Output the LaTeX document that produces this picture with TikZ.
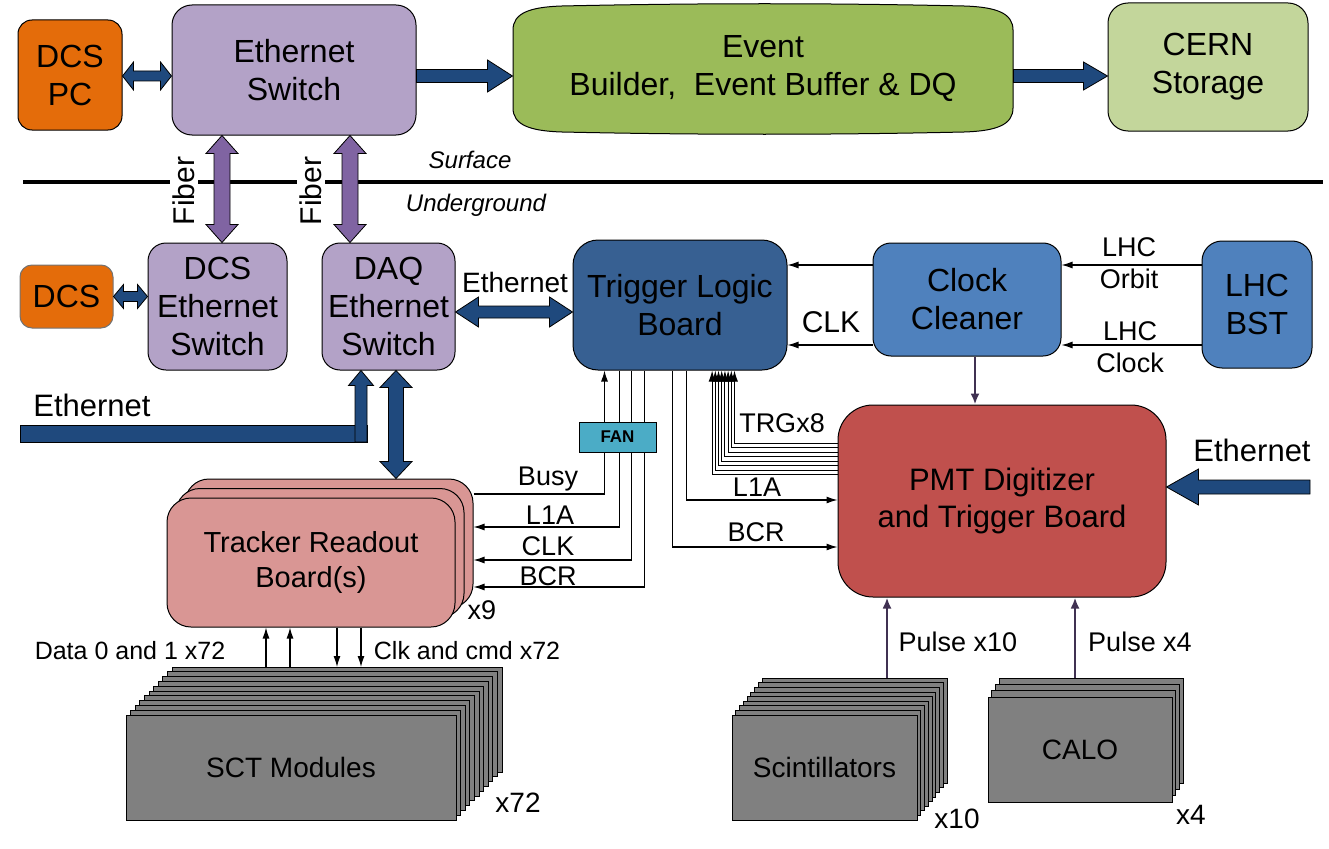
\documentclass[tikz,border=0pt]{standalone}
\usepackage{fontspec}
\setmainfont{Liberation Sans}
\usetikzlibrary{arrows.meta,calc}

\definecolor{orng}{HTML}{E46C0A}
\definecolor{lav}{HTML}{B3A2C7}
\definecolor{evbgreen}{HTML}{9BBB59}
\definecolor{palegreen}{HTML}{C3D69B}
\definecolor{tlbblue}{HTML}{376092}
\definecolor{midblue}{HTML}{4F81BD}
\definecolor{brick}{HTML}{C0504D}
\definecolor{salmon}{HTML}{D99694}
\definecolor{fancol}{HTML}{4BACC6}
\definecolor{modgray}{HTML}{808080}
\definecolor{arrblue}{HTML}{1F497D}
\definecolor{fibre}{HTML}{8064A2}
\definecolor{pulsecol}{HTML}{403152}

\newcommand\fsz[2]{\fontsize{#1}{#2}\selectfont}

\tikzset{
  blk/.style={draw=black, line width=1pt, align=center, inner sep=0pt, font=\fsz{32}{38}},
  trb/.style={blk, fill=salmon, rounded corners=24pt, minimum width=288pt, minimum height=129pt, font=\fsz{29}{35}},
  module/.style={draw=black, line width=1pt, fill=modgray},
  sig/.style={line width=1.2pt, -{Latex[length=11pt,width=7pt]}},
  pulse/.style={draw=pulsecol, line width=2.5pt, -{Latex[length=11pt,width=9pt]}},
  lbl/.style={font=\fsz{27}{32}, inner sep=0pt},
  fat/.style n args={3}{fill=arrblue, draw=black, line width=0.8pt, to path={
    let \p1=(\tikztostart), \p2=(\tikztotarget),
        \n1={atan2(\y2-\y1,\x2-\x1)}, \n2={veclen(\x2-\x1,\y2-\y1)} in
    ($(\p1)+({\n1+90}:{#1pt})$) -- ($(\p1)+(\n1:{\n2-#3pt})+({\n1+90}:{#1pt})$)
    -- ($(\p1)+(\n1:{\n2-#3pt})+({\n1+90}:{#2pt})$) -- (\p2)
    -- ($(\p1)+(\n1:{\n2-#3pt})+({\n1-90}:{#2pt})$) -- ($(\p1)+(\n1:{\n2-#3pt})+({\n1-90}:{#1pt})$)
    -- ($(\p1)+({\n1-90}:{#1pt})$) -- cycle}},
  fatboth/.style n args={3}{fill=arrblue, draw=black, line width=0.8pt, to path={
    let \p1=(\tikztostart), \p2=(\tikztotarget),
        \n1={atan2(\y2-\y1,\x2-\x1)}, \n2={veclen(\x2-\x1,\y2-\y1)} in
    (\p1) -- ($(\p1)+(\n1:{#3pt})+({\n1+90}:{#2pt})$) -- ($(\p1)+(\n1:{#3pt})+({\n1+90}:{#1pt})$)
    -- ($(\p1)+(\n1:{\n2-#3pt})+({\n1+90}:{#1pt})$) -- ($(\p1)+(\n1:{\n2-#3pt})+({\n1+90}:{#2pt})$)
    -- (\p2)
    -- ($(\p1)+(\n1:{\n2-#3pt})+({\n1-90}:{#2pt})$) -- ($(\p1)+(\n1:{\n2-#3pt})+({\n1-90}:{#1pt})$)
    -- ($(\p1)+(\n1:{#3pt})+({\n1-90}:{#1pt})$) -- ($(\p1)+(\n1:{#3pt})+({\n1-90}:{#2pt})$) -- cycle}},
}

\begin{document}
\begin{tikzpicture}[x=1pt,y=-1pt]
\useasboundingbox (0,0) rectangle (1329,848);

% rows and columns
\coordinate (toprow) at (0,76);
\coordinate (xfib1) at (222,0);
\coordinate (xfib2) at (350,0);
\coordinate (ethrow) at (0,312);
\coordinate (xeth) at (361,0);
\coordinate (ethbar) at (0,442);
\coordinate (xtrb) at (396,0);
\coordinate (orb) at (0,265);
\coordinate (clkin) at (0,345);
\coordinate (busy) at (0,494);
\coordinate (l1a) at (0,527);
\coordinate (clkrow) at (0,560);
\coordinate (bcrrow) at (0,587);
\coordinate (pl1a) at (0,500);
\coordinate (pbcr) at (0,547);
\coordinate (pethrow) at (0,487);
\coordinate (ethsrc) at (1310,487);
\coordinate (scttop) at (0,667);
\coordinate (scinttop) at (887,678);
\coordinate (calotop) at (1075,678);

% surface / underground
\draw[line width=4pt] (23,182) -- (1323,182);
\node[font=\fsz{24}{28}\itshape] (surf) at (470,160) {Surface};
\node[font=\fsz{24}{28}\itshape] (under) at (476,205) {Underground};

% surface boxes
\node[blk, fill=orng, rounded corners=14pt, minimum width=104pt, minimum height=110pt] (dcspc) at (70,75) {DCS\\PC};
\node[blk, fill=lav, rounded corners=20pt, minimum width=244pt, minimum height=130pt] (ethsw) at (294,70) {Ethernet\\Switch};
\draw[fill=evbgreen, line width=1pt] (513,30) .. controls (513,13) and (530,7) .. (562,6)
  .. controls (700,3) and (830,3) .. (964,6) .. controls (996,7) and (1013,13) .. (1013,30)
  -- (1013,108) .. controls (1013,125) and (996,131) .. (964,132)
  .. controls (830,135) and (700,135) .. (562,132) .. controls (530,131) and (513,125) .. (513,108) -- cycle;
\node[blk, draw=none, minimum width=500pt, minimum height=128pt] (evb) at (763,69) {Event\\Builder,\ \ Event Buffer \& DQ};
\node[blk, fill=palegreen, rounded corners=20pt, minimum width=200pt, minimum height=128pt] (cern) at (1208,67) {CERN\\Storage};

% underground boxes
\node[blk, draw=black!55, fill=orng, rounded corners=12pt, minimum width=93pt, minimum height=63pt] (dcs) at (66.5,296.5) {DCS};
\node[blk, fill=lav, rounded corners=18pt, minimum width=139pt, minimum height=127pt] (dcssw) at (217.5,306.5) {DCS\\Ethernet\\Switch};
\node[blk, fill=lav, rounded corners=18pt, minimum width=133pt, minimum height=127pt] (daqsw) at (388.5,306.5) {DAQ\\Ethernet\\Switch};
\node[blk, fill=tlbblue, rounded corners=25pt, minimum width=214pt, minimum height=130pt] (tlb) at (680,305) {Trigger Logic\\Board};
\node[blk, fill=midblue, rounded corners=18pt, minimum width=188pt, minimum height=113pt] (cc) at (967,299.5) {Clock\\Cleaner};
\node[blk, fill=midblue, rounded corners=20pt, minimum width=110pt, minimum height=127pt] (bst) at (1257,304.5) {LHC\\BST};
\node[blk, fill=brick, rounded corners=35pt, minimum width=328pt, minimum height=192pt, font=\fsz{31}{37}] (pmt) at (1002,501) {PMT Digitizer\\and Trigger Board};

% tracker boards
\node[trb] (trb3) at (329,543.5) {};
\node[trb] (trb2) at (320,553) {};
\node[trb] (trb1) at (311,562.5) {Tracker Readout\\Board(s)};
\node[lbl] (x9) at (482,610) {x9};

% module stacks
\foreach \i in {10,...,1}
  \draw[module] (126+4.6*\i,715-4.8*\i) rectangle ++(330,105);
\node[module, minimum width=330pt, minimum height=105pt, font=\fsz{28}{34}] (sct) at (291,767.5) {SCT Modules};
\node[lbl, font=\fsz{28}{34}] (x72) at (518,803) {x72};
\foreach \i in {8,...,1}
  \draw[module] (732+3.75*\i,715-4.6*\i) rectangle ++(185,105);
\node[module, minimum width=185pt, minimum height=105pt, font=\fsz{28}{34}] (scint) at (824.5,767.5) {Scintillators};
\node[lbl, font=\fsz{28}{34}] (x10) at (957,819) {x10};
\foreach \i in {3,...,1}
  \draw[module] (988+3.7*\i,697-6.3*\i) rectangle ++(184,105);
\node[module, minimum width=184pt, minimum height=105pt, font=\fsz{28}{34}] (calo) at (1080,749.5) {CALO};
\node[lbl, font=\fsz{28}{34}] (x4) at (1191,815) {x4};

% fat arrows
\draw[fatboth={5}{14}{11}] (dcspc.east |- toprow) to (ethsw.west |- toprow);
\draw[fat={6.5}{16}{25}] (ethsw.east |- toprow) to (evb.west |- toprow);
\draw[fat={6.5}{14}{24}] (evb.east |- toprow) to (cern.west |- toprow);
\node[rotate=90, fill=white, font=\fsz{30}{36}, inner sep=3pt] (fib1) at (184,191) {Fiber};
\node[rotate=90, fill=white, font=\fsz{30}{36}, inner sep=3pt] (fib2) at (311,191) {Fiber};
\draw[fatboth={8}{16}{18}, fill=fibre] (ethsw.south -| xfib1) to (dcssw.north -| xfib1);
\draw[fatboth={8}{16}{18}, fill=fibre] (ethsw.south -| xfib2) to (daqsw.north -| xfib2);
\draw[fatboth={5}{12}{10}] (dcs.east) to (dcs.east -| dcssw.west);
\draw[fatboth={6}{15}{23}] (daqsw.east |- ethrow) to (tlb.west |- ethrow);
\node[lbl, font=\fsz{28}{34}] (ethmid) at (515,282) {Ethernet};
\draw[fatboth={7.5}{16}{17}] (daqsw.south -| xtrb) to (trb3.north -| xtrb);
\fill[arrblue, draw=black, line width=0.8pt] (20,425) rectangle (367,442);
\draw[fat={6}{12.5}{15}] (xeth |- ethbar) to (xeth |- daqsw.south);
\node[lbl, font=\fsz{31}{36}] (ethleft) at (92,405) {Ethernet};
\draw[fat={7}{18}{32}] (ethsrc) to (pmt.east |- pethrow);
\node[lbl, font=\fsz{31}{36}] (ethright) at (1252,450) {Ethernet};

% clock lines
\draw[sig] (cc.west |- orb) -- (tlb.east |- orb);
\draw[sig] (cc.west |- clkin) -- (tlb.east |- clkin);
\draw[sig] (bst.west |- orb) -- (cc.east |- orb);
\draw[sig] (bst.west |- clkin) -- (cc.east |- clkin);
\node[lbl, font=\fsz{30}{34}] (clklbl) at (831,322) {CLK};
\node[lbl, align=center] (orblbl) at (1129,263.5) {LHC\\Orbit};
\node[lbl, align=center] (clklhc) at (1130,347.5) {LHC\\Clock};
\draw[pulse] ($(cc.south)+(8,0)$) -- ($(cc.south |- pmt.north)+(8,0)$);

% trigger lines to tracker
\draw[sig] (trb3.east |- busy) -| ($(tlb.south west)+(32,0)$);
\draw[sig] ($(tlb.south west)+(47,0)$) |- (trb3.east |- l1a);
\draw[sig] ($(tlb.south west)+(59,0)$) |- (trb3.east |- clkrow);
\draw[sig] ($(tlb.south west)+(72,0)$) |- (trb3.east |- bcrrow);
\node[draw=black, fill=fancol, line width=1pt, minimum width=77pt, minimum height=30pt, inner sep=0pt, font=\fsz{17}{20}\bfseries] (fan) at (617.5,437) {FAN};
\node[lbl] (busylbl) at (548,479) {Busy};
\node[lbl] (l1albl) at (550,515) {L1A};
\node[lbl] (clkl) at (548,546) {CLK};
\node[lbl] (bcrl) at (548,576) {BCR};

% trigger lines to PMT board
\draw[sig] ($(tlb.south west)+(114,0)$) |- (pmt.west |- pl1a);
\draw[sig] ($(tlb.south west)+(100,0)$) |- (pmt.west |- pbcr);
\foreach \i in {0,...,7}
  \draw[sig, line width=1pt] ($(pmt.west)+(0,-58+4.5*\i)$) -| ($(tlb.south west)+(162-3.2*\i,0)$);
\node[lbl] (trglbl) at (782,423) {TRGx8};
\node[lbl] (pl1albl) at (757,487) {L1A};
\node[lbl] (pbcrlbl) at (756,532) {BCR};

% pulses
\draw[pulse] (scinttop) -- (scinttop |- pmt.south);
\draw[pulse] (calotop) -- (calotop |- pmt.south);
\node[lbl] (pulse10) at (958,642) {Pulse x10};
\node[lbl] (pulse4) at (1140,642) {Pulse x4};

% tracker data
\foreach \dx in {-45,-21}
  \draw[sig] ($(trb1.south |- scttop)+(\dx,0)$) -- ($(trb1.south)+(\dx,0)$);
\foreach \dx in {26,50}
  \draw[sig] ($(trb1.south)+(\dx,0)$) -- ($(trb1.south |- scttop)+(\dx,0)$);
\node[lbl, font=\fsz{25}{30}] (datalbl) at (130,651) {Data 0 and 1 x72};
\node[lbl, font=\fsz{25}{30}] (cmdlbl) at (467,651) {Clk and cmd x72};
\end{tikzpicture}
\end{document}
